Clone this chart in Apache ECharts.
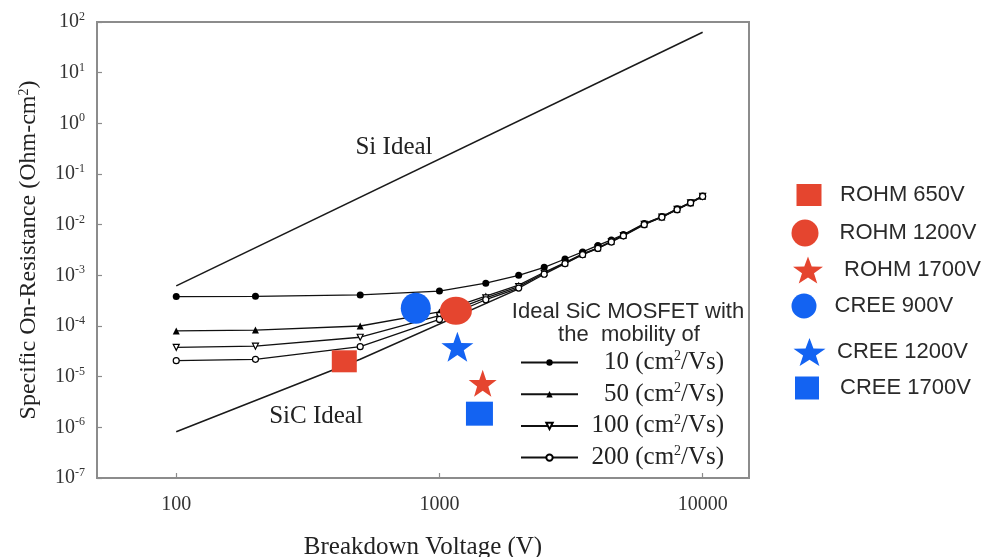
<!DOCTYPE html>
<html><head><meta charset="utf-8">
<script src="https://cdn.jsdelivr.net/npm/echarts@6/dist/echarts.min.js"></script>
<style>html,body{margin:0;padding:0;background:#fff}#c{width:988px;height:557px}</style>
</head><body><div id="c"></div>
<script>
// ---- data ----
const voltages = [100, 200, 500, 1000, 1500, 2000, 2500, 3000, 3500, 4000, 4500, 5000, 6000, 7000, 8000, 9000, 10000];
const mobility10 = [3.8e-4, 3.85e-4, 4.1e-4, 4.9e-4, 7.0e-4, 1.0e-3, 1.44e-3, 2.1e-3, 2.9e-3, 3.9e-3, 5.0e-3, 6.4e-3, 1.05e-2, 1.45e-2, 2.05e-2, 2.75e-2, 3.7e-2];
const mobility50 = [8.0e-5, 8.3e-5, 1.0e-4, 1.9e-4, 3.9e-4, 6.4e-4, 1.15e-3, 1.78e-3, 2.65e-3, 3.5e-3, 4.7e-3, 6.2e-3, 1.03e-2, 1.42e-2, 2.02e-2, 2.72e-2, 3.65e-2];
const mobility100 = [3.8e-5, 4.0e-5, 6.0e-5, 1.6e-4, 3.6e-4, 6.0e-4, 1.1e-3, 1.74e-3, 2.6e-3, 3.45e-3, 4.6e-3, 6.1e-3, 1.02e-2, 1.41e-2, 2.0e-2, 2.7e-2, 3.62e-2];
const mobility200 = [2.07e-5, 2.2e-5, 3.9e-5, 1.35e-4, 3.3e-4, 5.6e-4, 1.05e-3, 1.7e-3, 2.55e-3, 3.4e-3, 4.55e-3, 6.0e-3, 1.0e-2, 1.4e-2, 1.98e-2, 2.68e-2, 3.6e-2];
const mobilityNames = ['10', '50', '100', '200'];

const siIdealV = [100, 10000];
const siIdealR = [6.2e-4, 63];
const sicIdealV = [100, 500, 2000];
const sicIdealR = [8.2e-7, 2.2e-5, 5.4e-4];

const productNames = ['ROHM 650V', 'ROHM 1200V', 'ROHM 1700V', 'CREE 900V', 'CREE 1200V', 'CREE 1700V'];
const productVoltage = [435, 1155, 1460, 813, 1170, 1419];
const productResistance = [2.01e-5, 2.0e-4, 7.4e-6, 2.24e-4, 3.9e-5, 1.86e-6];

const xTickLabels = ['100', '1000', '10000'];
const yTickExponents = [-7, -6, -5, -4, -3, -2, -1, 0, 1, 2];

// ---- styles ----
const RED = '#E5452F', BLUE = '#1363F2';
const STAR = 'path://M50,0L61.76,33.82L97.55,34.55L69.02,56.18L79.39,90.45L50,70L20.61,90.45L30.98,56.18L2.45,34.55L38.24,33.82Z';
const SERIF = '"Liberation Serif","Times New Roman",serif';
const SANS = '"Liberation Sans",Arial,sans-serif';
const productStyle = [
  {symbol: 'rect', size: [25, 22], color: RED, legend: {left: 796.5, top: 184, w: 25, h: 22, pad: 13.5}},
  {symbol: 'circle', size: [32, 28], color: RED, legend: {left: 791.5, top: 219.5, w: 32, h: 27, pad: 13.5}},
  {symbol: STAR, size: [28, 27], color: RED, legend: {left: 793, top: 256.5, w: 30, h: 27, pad: 16}},
  {symbol: 'circle', size: [30, 31], color: BLUE, legend: {left: 791.5, top: 293.5, w: 32, h: 25, pad: 9.5}},
  {symbol: STAR, size: [32, 30], color: BLUE, legend: {left: 793.5, top: 338, w: 32, h: 28, pad: 6.5}},
  {symbol: 'rect', size: [27, 24], color: BLUE, legend: {left: 795, top: 376.5, w: 24, h: 23, pad: 16}}
];
const mobilityStyle = [
  {symbol: 'circle', size: 7, rotate: 0, fill: '#000'},
  {symbol: 'triangle', size: 7, rotate: 0, fill: '#000'},
  {symbol: 'triangle', size: 6, rotate: 180, fill: '#fff'},
  {symbol: 'circle', size: 6, rotate: 0, fill: '#fff'}
];
const mobilityData = [mobility10, mobility50, mobility100, mobility200];

const zip = (a, b) => a.map((v, i) => [v, b[i]]);

const series = [];
series.push({
  name: 'Si Ideal', type: 'line', data: zip(siIdealV, siIdealR), symbol: 'none',
  lineStyle: {color: '#1a1a1a', width: 1.6}, z: 2, silent: true
});
series.push({
  name: 'SiC Ideal', type: 'line', data: zip(sicIdealV, sicIdealR), symbol: 'none',
  lineStyle: {color: '#1a1a1a', width: 1.6}, z: 2, silent: true
});
mobilityNames.forEach((n, i) => {
  const st = mobilityStyle[i];
  series.push({
    name: n, type: 'line', data: zip(voltages, mobilityData[i]),
    symbol: st.symbol, symbolSize: st.size, symbolRotate: st.rotate, showAllSymbol: true,
    lineStyle: {color: '#111', width: 1.3},
    itemStyle: {color: st.fill, borderColor: '#000', borderWidth: st.fill === '#fff' ? 1.2 : 0},
    z: 3, silent: true
  });
});
productNames.forEach((n, i) => {
  const st = productStyle[i];
  series.push({
    name: n, type: 'scatter', data: [[productVoltage[i], productResistance[i]]],
    symbol: st.symbol, symbolSize: st.size, itemStyle: {color: st.color, opacity: 1},
    z: 5, silent: true
  });
});

const legends = [{
  left: 520, top: 349.5, padding: 0, orient: 'vertical', itemWidth: 57, itemHeight: 8, itemGap: 6.2,
  selectedMode: false, data: mobilityNames,
  formatter: n => (n.length === 2 ? '{n2|' : '{n3|') + n + '}{t| (cm}{s|2}{t|/Vs)}',
  textStyle: {
    color: '#222',
    rich: {
      n2: {fontFamily: SERIF, fontSize: 25, lineHeight: 26, padding: [0, 0, 0, 21], color: '#222'},
      n3: {fontFamily: SERIF, fontSize: 25, lineHeight: 26, padding: [0, 0, 0, 8.5], color: '#222'},
      t: {fontFamily: SERIF, fontSize: 25, lineHeight: 26, color: '#222'},
      s: {fontFamily: SERIF, fontSize: 14, lineHeight: 14, verticalAlign: 'top', color: '#222'}
    }
  }
}];
productNames.forEach((n, i) => {
  const L = productStyle[i].legend;
  legends.push({
    left: L.left, top: L.top, padding: 0, orient: 'vertical', itemWidth: L.w, itemHeight: L.h,
    symbolKeepAspect: false,
    selectedMode: false, data: [n],
    textStyle: {fontFamily: SANS, fontSize: 22, color: '#2a2a2a', padding: [0, 0, 0, L.pad]}
  });
});

const chart = echarts.init(document.getElementById('c'), null, {renderer: 'canvas'});
chart.setOption({
  animation: false,
  backgroundColor: '#fff',
  grid: {left: 97, right: 239, top: 22, bottom: 79, show: true, borderColor: '#8c8c8c', borderWidth: 2,
    backgroundColor: 'transparent', containLabel: false, outerBoundsMode: 'none'},
  xAxis: {
    type: 'log', logBase: 10, min: 50, max: 15000,
    name: 'Breakdown Voltage (V)', nameLocation: 'middle', nameGap: 57,
    nameTextStyle: {fontFamily: SERIF, fontSize: 25, color: '#222'},
    axisLine: {show: true, lineStyle: {color: '#8c8c8c', width: 2}},
    axisTick: {show: true, inside: true, length: 5, lineStyle: {color: '#8c8c8c', width: 1.2}},
    minorTick: {show: false}, splitLine: {show: false},
    axisLabel: {
      showMinLabel: false, showMaxLabel: false, margin: 17,
      fontFamily: SERIF, fontSize: 20, color: '#333',
      formatter: v => { const e = Math.round(Math.log10(v)); return xTickLabels[e - 2] || ''; }
    }
  },
  yAxis: {
    type: 'log', logBase: 10, min: 1e-7, max: 100, splitNumber: 9,
    name: 'Specific On-Resistance (Ohm-cm{s|2})', nameLocation: 'middle', nameGap: 56, nameRotate: 90,
    nameTextStyle: {fontFamily: SERIF, fontSize: 24, color: '#222',
      rich: {s: {fontFamily: SERIF, fontSize: 14, lineHeight: 14, verticalAlign: 'top', color: '#222'}}},
    axisLine: {show: true, lineStyle: {color: '#8c8c8c', width: 2}},
    axisTick: {show: true, inside: true, length: 5, lineStyle: {color: '#8c8c8c', width: 1.2}},
    minorTick: {show: false}, splitLine: {show: false},
    axisLabel: {
      margin: 12,
      formatter: v => { const e = Math.round(Math.log10(v)); return yTickExponents.includes(e) ? '{b|10}{s|' + e + '}' : ''; },
      rich: {
        b: {fontFamily: SERIF, fontSize: 20, lineHeight: 22, color: '#333'},
        s: {fontFamily: SERIF, fontSize: 12, lineHeight: 12, verticalAlign: 'top', color: '#333'}
      }
    }
  },
  legend: legends,
  graphic: [
    {type: 'text', x: 394, y: 147, style: {text: 'Si Ideal', fontFamily: SERIF, fontSize: 25, fill: '#222', align: 'center', verticalAlign: 'middle'}},
    {type: 'text', x: 316, y: 416.5, style: {text: 'SiC Ideal', fontFamily: SERIF, fontSize: 25, fill: '#222', align: 'center', verticalAlign: 'middle'}},
    {type: 'text', x: 628, y: 312, style: {text: 'Ideal SiC MOSFET with', fontFamily: SANS, fontSize: 22, fill: '#2a2a2a', align: 'center', verticalAlign: 'middle'}},
    {type: 'text', x: 629, y: 335, style: {text: 'the  mobility of', fontFamily: SANS, fontSize: 22, fill: '#2a2a2a', align: 'center', verticalAlign: 'middle'}}
  ],
  series: series
});
</script></body></html>
